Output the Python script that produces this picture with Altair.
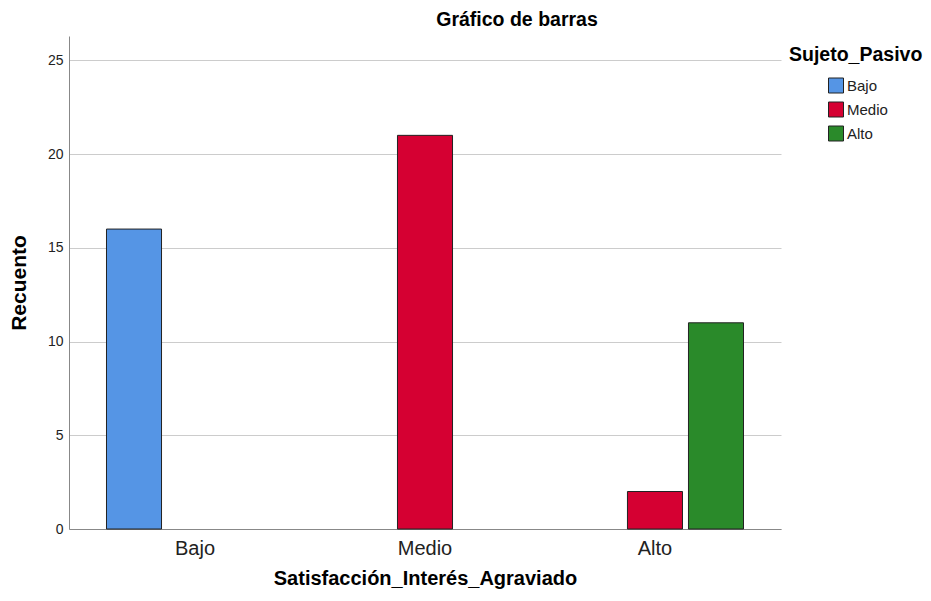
import altair as alt
import pandas as pd

# Data
satisfaccion = ["Bajo", "Medio", "Alto", "Alto"]
sujeto = ["Bajo", "Medio", "Medio", "Alto"]
recuento = [16, 21, 2, 11]

categorias = ["Bajo", "Medio", "Alto"]
colores = ["#5595e5", "#d50032", "#2a8a2a"]
y_ticks = [0, 5, 10, 15, 20, 25]

df = pd.DataFrame({
    "Satisfacción_Interés_Agraviado": satisfaccion,
    "Sujeto_Pasivo": sujeto,
    "Recuento": recuento,
})

FONT = "Liberation Sans"

bars = alt.Chart(df).mark_bar(stroke="#222222", strokeWidth=1).encode(
    x=alt.X(
        "Satisfacción_Interés_Agraviado:N",
        sort=categorias,
        scale=alt.Scale(domain=categorias, paddingInner=0.23, paddingOuter=0.163),
        axis=alt.Axis(
            title="Satisfacción_Interés_Agraviado",
            labelAngle=0,
            labelFontSize=20,
            labelColor="#222222",
            labelPadding=9,
            ticks=False,
            domainColor="#888888",
            titleFontSize=20,
            titleFontWeight="bold",
            titleColor="#000000",
            titlePadding=10,
        ),
    ),
    xOffset=alt.XOffset(
        "Sujeto_Pasivo:N",
        sort=categorias,
        scale=alt.Scale(domain=categorias, paddingInner=0.098, paddingOuter=0),
    ),
    y=alt.Y(
        "Recuento:Q",
        scale=alt.Scale(domain=[0, 26.3], nice=False),
        axis=alt.Axis(
            title="Recuento",
            values=y_ticks,
            ticks=False,
            labelFontSize=14,
            labelColor="#222222",
            labelPadding=6,
            domainColor="#888888",
            gridColor="#cccccc",
            titleFontSize=21,
            titleFontWeight="bold",
            titleColor="#000000",
            titlePadding=18,
        ),
    ),
    color=alt.Color(
        "Sujeto_Pasivo:N",
        sort=categorias,
        scale=alt.Scale(domain=categorias, range=colores),
        legend=alt.Legend(
            title="Sujeto_Pasivo",
            orient="none",
            legendX=720,
            legendY=10,
            titleFontSize=19.5,
            titleFontWeight="bold",
            titleColor="#000000",
            titlePadding=12,
            titleLimit=300,
            symbolType="square",
            symbolSize=225,
            symbolStrokeColor="#222222",
            symbolStrokeWidth=1,
            symbolOffset=39,
            labelFontSize=15,
            labelColor="#222222",
            labelOffset=3,
            rowPadding=4,
        ),
    ),
)

chart = bars.properties(
    width=712,
    height=493,
    title=alt.TitleParams(
        "Gráfico de barras",
        fontSize=19.5,
        fontWeight="bold",
        color="#000000",
        anchor="middle",
        dx=92,
        offset=6,
    ),
    autosize=alt.AutoSizeParams(type="none"),
    padding={"left": 61, "top": 28, "right": 142, "bottom": 64},
).configure(font=FONT).configure_view(stroke=None)

chart.save("out.html", embed_options={"renderer": "svg", "actions": False})
